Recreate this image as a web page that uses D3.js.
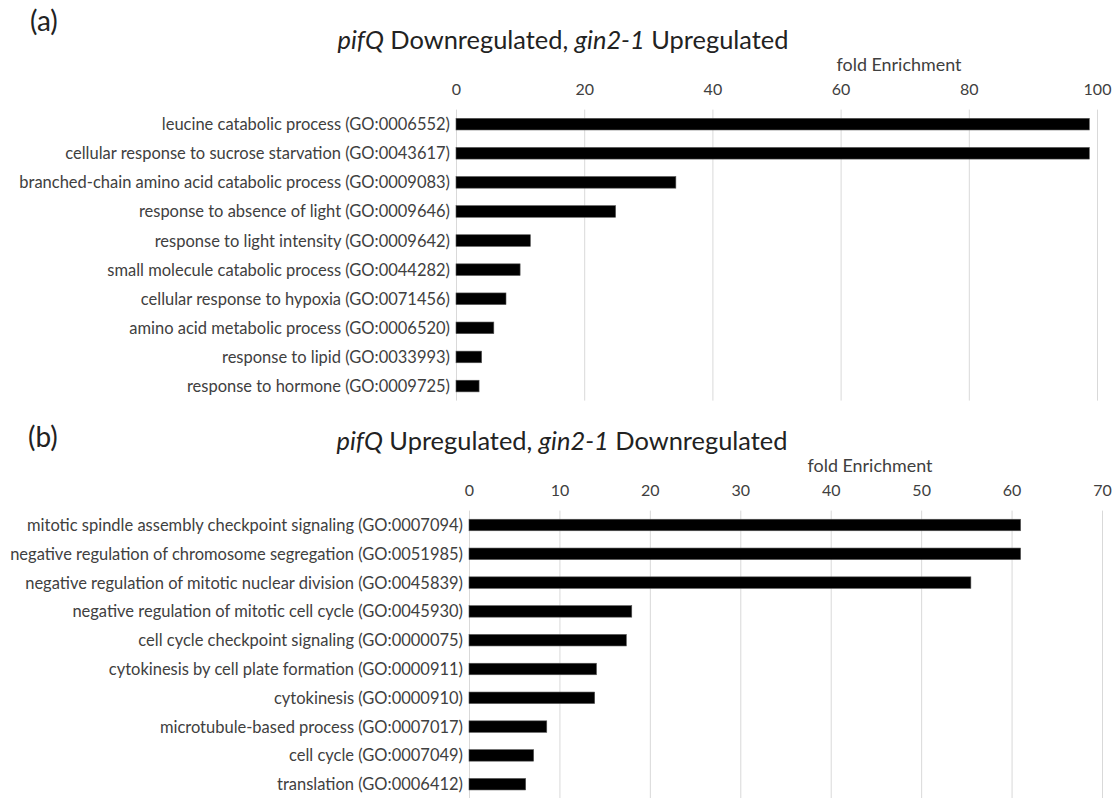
<!DOCTYPE html>
<html>
<head>
<meta charset="utf-8">
<script src="https://cdn.jsdelivr.net/npm/d3@7"></script>
<style>
  html, body { margin: 0; padding: 0; background: #fff; }
  svg { display: block; }
  text { font-family: Lato, "Open Sans", sans-serif; }
</style>
</head>
<body>
<svg id="chart" width="1115" height="798"></svg>
<script>
// GO terms and fold enrichment, panel (a)
const topCategories = [
  "leucine catabolic process (GO:0006552)",
  "cellular response to sucrose starvation (GO:0043617)",
  "branched-chain amino acid catabolic process (GO:0009083)",
  "response to absence of light (GO:0009646)",
  "response to light intensity (GO:0009642)",
  "small molecule catabolic process (GO:0044282)",
  "cellular response to hypoxia (GO:0071456)",
  "amino acid metabolic process (GO:0006520)",
  "response to lipid (GO:0033993)",
  "response to hormone (GO:0009725)"
];
const topValues = [98.8, 98.8, 34.3, 24.9, 11.6, 10.0, 7.8, 5.9, 4.0, 3.6];
const topTicks = [0, 20, 40, 60, 80, 100];

// GO terms and fold enrichment, panel (b)
const bottomCategories = [
  "mitotic spindle assembly checkpoint signaling (GO:0007094)",
  "negative regulation of chromosome segregation (GO:0051985)",
  "negative regulation of mitotic nuclear division (GO:0045839)",
  "negative regulation of mitotic cell cycle (GO:0045930)",
  "cell cycle checkpoint signaling (GO:0000075)",
  "cytokinesis by cell plate formation (GO:0000911)",
  "cytokinesis (GO:0000910)",
  "microtubule-based process (GO:0007017)",
  "cell cycle (GO:0007049)",
  "translation (GO:0006412)"
];
const bottomValues = [61.0, 61.0, 55.5, 18.0, 17.4, 14.1, 13.9, 8.6, 7.15, 6.27];
const bottomTicks = [0, 10, 20, 30, 40, 50, 60, 70];

const svg = d3.select("#chart");
const textColor = "#404040";
const gridColor = "#d9d9d9";

// font size that makes a string span the given width
function fitSize(label, width, style) {
  const t = svg.append("text").attr("font-size", 20).attr("font-style", style || "normal").text(label);
  const w = t.node().getComputedTextLength();
  t.remove();
  return 20 * width / w;
}
const labelSize = fitSize("branched-chain amino acid catabolic process (GO:0009083)", 431);
const titleSize = fitSize("pifQ Downregulated, gin2-1 Upregulated", 457);
const axisTitleSize = fitSize("fold Enrichment", 125);
const tickSize = 16;

function drawPanel(cfg) {
  const g = svg.append("g");

  const x = d3.scaleLinear().domain(cfg.domain).range([cfg.x0, cfg.x1]);
  const y = d3.scaleBand()
    .domain(cfg.categories)
    .range([cfg.y0, cfg.y1])
    .paddingInner(0.6)
    .paddingOuter(0.3);

  // panel letter
  g.append("text")
    .attr("x", cfg.letterX).attr("y", cfg.letterY)
    .attr("dominant-baseline", "central")
    .attr("font-size", 28).attr("fill", "#222")
    .text(cfg.letter);

  // title with italic gene names
  const title = g.append("text")
    .attr("x", cfg.titleX).attr("y", cfg.titleY)
    .attr("dominant-baseline", "central")
    .attr("text-anchor", "middle")
    .attr("font-size", titleSize).attr("fill", "#222");
  cfg.titleParts.forEach(p => {
    title.append("tspan").attr("font-style", p.italic ? "italic" : "normal").text(p.t);
  });

  // axis title
  g.append("text")
    .attr("x", cfg.axisTitleX).attr("y", cfg.axisTitleY)
    .attr("dominant-baseline", "central")
    .attr("text-anchor", "middle")
    .attr("font-size", axisTitleSize).attr("fill", textColor)
    .text("fold Enrichment");

  // vertical gridlines
  g.append("g").selectAll("line")
    .data(cfg.ticks)
    .join("line")
    .attr("x1", d => x(d) + 0.5).attr("x2", d => x(d) + 0.5)
    .attr("y1", cfg.y0).attr("y2", cfg.y1)
    .attr("stroke", gridColor).attr("stroke-width", 1);

  // axis labels along the top
  const axis = d3.axisTop(x).tickValues(cfg.ticks).tickSize(0).tickPadding(0);
  const ax = g.append("g")
    .attr("transform", `translate(0,${cfg.tickY})`)
    .call(axis);
  ax.select(".domain").remove();
  ax.selectAll("text")
    .attr("dy", null)
    .attr("y", 0)
    .attr("dominant-baseline", "central")
    .attr("font-size", tickSize)
    .attr("font-family", "Lato, 'Open Sans', sans-serif")
    .attr("fill", textColor);

  // bars
  g.append("g").selectAll("rect")
    .data(cfg.values)
    .join("rect")
    .attr("x", x(0))
    .attr("y", (d, i) => y(cfg.categories[i]))
    .attr("width", d => x(d) - x(0))
    .attr("height", y.bandwidth())
    .attr("fill", "#000")
    .attr("stroke", "#555")
    .attr("stroke-width", 0.6);

  // category labels
  g.append("g").selectAll("text")
    .data(cfg.categories)
    .join("text")
    .attr("x", cfg.labelX)
    .attr("y", d => y(d) + y.bandwidth() / 2)
    .attr("dominant-baseline", "central")
    .attr("text-anchor", "end")
    .attr("font-size", labelSize)
    .attr("fill", textColor)
    .text(d => d);
}

drawPanel({
  letter: "(a)", letterX: 30, letterY: 20,
  titleParts: [{t: "pifQ", italic: true}, {t: " Downregulated, "}, {t: "gin2-1", italic: true}, {t: " Upregulated"}],
  titleX: 563, titleY: 39,
  axisTitleX: 899, axisTitleY: 64,
  tickY: 88,
  categories: topCategories, values: topValues, ticks: topTicks,
  domain: [0, 100], x0: 456, x1: 1097,
  y0: 109.6, y1: 400.6,
  labelX: 450
});

drawPanel({
  letter: "(b)", letterX: 28, letterY: 436,
  titleParts: [{t: "pifQ", italic: true}, {t: " Upregulated, "}, {t: "gin2-1", italic: true}, {t: " Downregulated"}],
  titleX: 562, titleY: 440,
  axisTitleX: 870, axisTitleY: 465,
  tickY: 489,
  categories: bottomCategories, values: bottomValues, ticks: bottomTicks,
  domain: [0, 70], x0: 469, x1: 1102,
  y0: 510.6, y1: 798.6,
  labelX: 463
});
</script>
</body>
</html>
